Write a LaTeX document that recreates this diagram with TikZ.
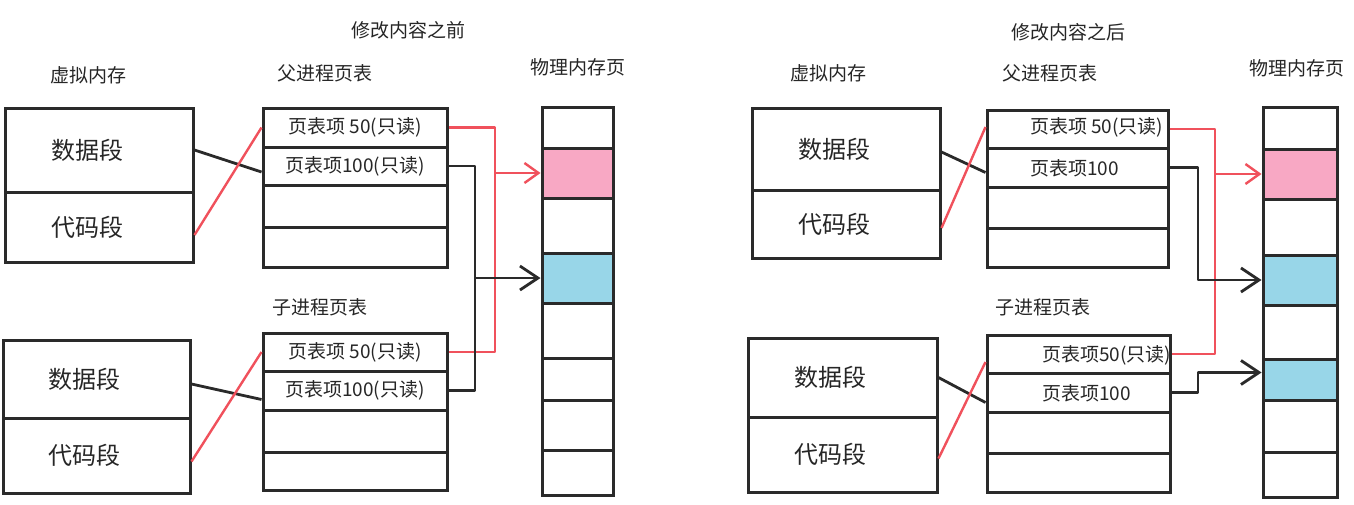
\documentclass[tikz,border=0pt]{standalone}
\usepackage{fontspec}
\setmainfont{Noto Sans CJK SC}
\usetikzlibrary{arrows.meta,positioning,calc}
\definecolor{cwtrait}{HTML}{2A2A2A}
\definecolor{cwtexte}{HTML}{262626}
\definecolor{cwrouge}{HTML}{F0515C}
\definecolor{cwrose}{HTML}{F8A8C4}
\definecolor{cwbleu}{HTML}{98D6E8}

\begin{document}
\begin{tikzpicture}[x=0.5pt,y=-0.5pt,font=\fontsize{9.5pt}{11pt}\selectfont,text=cwtexte,
  cadre/.style={draw=cwtrait,line width=1.5pt,inner sep=0pt,minimum width=#1},
  seg/.style={font=\fontsize{12pt}{14pt}\selectfont,execute at end node=\hspace{12pt}},
  lien/.style={cwtrait,line width=1.4pt,line join=round},
  lienrouge/.style={cwrouge,line width=1.2pt,line join=round},
  fleche/.style={-{Straight Barb[length=9pt,width=12pt]}},
  flecherouge/.style={-{Straight Barb[length=7pt,width=10pt]}}]
  \useasboundingbox (0,0) rectangle (1354,504);
  % titres
  \node (tavant) at (408,30) {修改内容之前};
  \node (tapres) at (1068,32) {修改内容之后};
  \foreach \n/\x/\y/\t in {lvm/88/75/虚拟内存, lppt/325/73/父进程页表, lcpt/320/307/子进程页表, lpm/578/67/物理内存页,
                           rvm/828/73/虚拟内存, rppt/1050/73/父进程页表, rcpt/1043/307/子进程页表, rpm/1297/68/物理内存页}
    \node (\n) at (\x,\y) {\t};
  % memoire virtuelle : nom / x / haut / milieu / bas / largeur
  \foreach \p/\x/\a/\m/\b/\w in {lv/99/108/192/262/94, lw/96.5/340/418/493/93.5, rv/846/108/190/258/94, rw/842.5/338/417/492/94.5} {
    \node[cadre=\w,seg,minimum height={(\m-\a)*0.5}] (\p-data) at (\x,{(\a+\m)/2}) {数据段};
    \node[cadre=\w,seg,minimum height={(\b-\m)*0.5}] (\p-code) at (\x,{(\m+\b)/2}) {代码段};
  }
  % tables des pages, avant
  \foreach \a/\b/\t [count=\i] in {108/147/{页表项 50(只读)}, 147/185/{页表项100(只读)}, 185/227/{}, 227/267/{}}
    \node[cadre=92,minimum height={(\b-\a)*0.5}] (lpp\i) at (355,{(\a+\b)/2}) {\t};
  \foreach \a/\b/\t [count=\i] in {333/371/{页表项 50(只读)}, 371/410/{页表项100(只读)}, 410/452/{}, 452/490/{}}
    \node[cadre=92,minimum height={(\b-\a)*0.5}] (lcp\i) at (355,{(\a+\b)/2}) {\t};
  % tables des pages, apres
  \foreach \a/\b [count=\i] in {110/148, 148/187, 187/228, 228/267}
    \node[cadre=90.5,minimum height={(\b-\a)*0.5}] (rpp\i) at (1077.5,{(\a+\b)/2}) {};
  \foreach \a/\b [count=\i] in {335/373, 373/412, 412/453, 453/492}
    \node[cadre=91.5,minimum height={(\b-\a)*0.5}] (rcp\i) at (1078.5,{(\a+\b)/2}) {};
  \node[anchor=west] (rpt1) at (1023,127) {页表项 50(只读)};
  \node[anchor=west] (rpt2) at (1023,168) {页表项100};
  \node[anchor=west] (rct1) at (1035,355) {页表项50(只读)};
  \node[anchor=west] (rct2) at (1035,393) {页表项100};
  % pages physiques
  \foreach \a/\b/\c [count=\i] in {107/148/white, 148/198/cwrose, 198/253/white, 253/303/cwbleu,
                                   303/358/white, 358/400/white, 400/450/white, 450/495/white}
    \node[cadre=35.5,fill=\c,minimum height={(\b-\a)*0.5}] (lpg\i) at (577.5,{(\a+\b)/2}) {};
  \foreach \a/\b/\c [count=\i] in {107/149/white, 149/199/cwrose, 199/255/white, 255/305/cwbleu,
                                   305/359/white, 359/400/cwbleu, 400/452/white, 452/497/white}
    \node[cadre=37,fill=\c,minimum height={(\b-\a)*0.5}] (rpg\i) at (1300,{(\a+\b)/2}) {};
  % virtuel -> table
  \draw[lien] (lv-data.east) -- ([yshift=-3pt]lpp2.west);
  \draw[lienrouge] ([yshift=-4pt]lv-code.east) -- (lpp1.west);
  \draw[lien] ([yshift=-2.5pt]lw-data.east) -- ([yshift=-4.5pt]lcp2.west);
  \draw[lienrouge] ([yshift=-3pt]lw-code.east) -- (lcp1.west);
  \draw[lien] ([yshift=-1.5pt]rv-data.east) -- ([yshift=-2.5pt]rpp2.west);
  \draw[lienrouge] ([yshift=-2pt]rv-code.east) -- ([yshift=1pt]rpp1.west);
  \draw[lien] (rw-data.east) -- ([yshift=-5pt]rcp2.west);
  \draw[lienrouge] ([yshift=-2pt]rw-code.east) -- ([yshift=-4pt]rcp1.west);
  % table -> pages, avant
  \coordinate (lbr) at (495,0);
  \coordinate (lbn) at (475,0);
  \draw[lienrouge] (lpp1.east) -| (lbr |- lcp1.east) -- (lcp1.east);
  \draw[lienrouge,flecherouge] (lbr |- lpg2.west) -- (lpg2.west);
  \draw[lien] (lpp2.east) -| (lbn |- lcp2.east) -- (lcp2.east);
  \draw[lien,fleche] (lbn |- lpg4.west) -- (lpg4.west);
  % table -> pages, apres
  \coordinate (rbr) at (1215,0);
  \coordinate (rbn) at (1198,0);
  \coordinate (rcible) at ($(rpg6.west)+(0,-7)$);
  \draw[lienrouge] (rpp1.east) -| (rbr |- rcp1.east) -- (rcp1.east);
  \draw[lienrouge,flecherouge] (rbr |- rpg2.west) -- (rpg2.west);
  \draw[lien,fleche] (rpp2.east) -| (rbn |- rpg4.west) -- (rpg4.west);
  \draw[lien,fleche] (rcp2.east) -| (rbn |- rcible) -- (rcible);
\end{tikzpicture}
\end{document}
